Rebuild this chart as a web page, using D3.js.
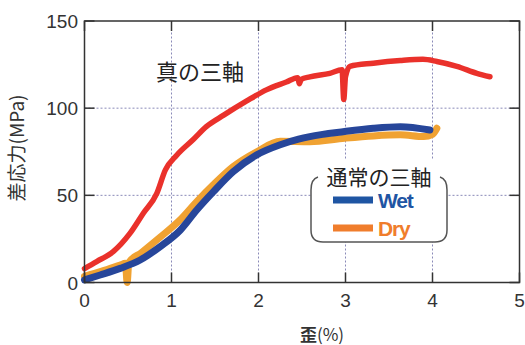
<!DOCTYPE html>
<html>
<head>
<meta charset="utf-8">
<script src="https://cdn.jsdelivr.net/npm/d3@7"></script>
<style>
  body { margin: 0; background: #fff; }
  svg text { font-family: "Liberation Sans", Arial, sans-serif; }
  .jp { font-family: "Noto Sans CJK JP", sans-serif; }
</style>
</head>
<body>
<div id="chart"></div>
<script>
// Data: strain (%) vs deviator stress (MPa)
const trueStrain = [0, 0.14, 0.33, 0.52, 0.68, 0.83, 0.93, 1.06, 1.25, 1.40, 1.60, 1.86, 2.09, 2.32, 2.45, 2.47, 2.49, 2.59, 2.82, 2.96, 2.98, 3.00, 3.05, 3.32, 3.63, 3.89, 4.05, 4.28, 4.51, 4.66];
const trueStress = [8, 12, 17.7, 28, 40, 51, 64.6, 73, 82, 89.4, 96, 104, 110.5, 115, 117.5, 114, 116.5, 118, 120, 122, 105, 118, 124, 125.8, 127.3, 128, 126.8, 124, 120, 118];

const wetStrain = [0, 0.18, 0.41, 0.64, 0.87, 1.10, 1.29, 1.48, 1.71, 1.98, 2.25, 2.46, 2.59, 2.99, 3.32, 3.63, 3.97];
const wetStress = [1.5, 4.3, 8.1, 12.9, 20.6, 30, 41.6, 52, 63.6, 73.2, 79, 82.2, 83.7, 86.6, 88.5, 89.4, 87.5];

const dryStrain = [0, 0.2, 0.41, 0.47, 0.49, 0.51, 0.65, 0.87, 1.10, 1.29, 1.48, 1.71, 1.98, 2.25, 2.59, 2.99, 3.32, 3.63, 3.90, 4.0, 4.05];
const dryStress = [3.5, 6.5, 10, 11, 0, 11.5, 17, 26, 36, 46.4, 56, 66.5, 75, 81, 80.8, 82.8, 84.1, 84.7, 83.7, 85, 88.5];

const xTicks = [0, 1, 2, 3, 4, 5];
const yTicks = [0, 50, 100, 150];

const width = 525, height = 345;
const x0 = 84.5, x1 = 519.5, y0 = 282.5, y1 = 21;

const svg = d3.select("#chart").append("svg")
    .attr("width", width)
    .attr("height", height);

const x = d3.scaleLinear().domain([0, 5]).range([x0, x1]);
const y = d3.scaleLinear().domain([0, 150]).range([y0, y1]);

// grid
svg.append("g").selectAll("line").data([1, 2, 3, 4]).enter().append("line")
    .attr("x1", d => x(d)).attr("x2", d => x(d))
    .attr("y1", y0).attr("y2", y1)
    .attr("stroke", "#8a8ab8").attr("stroke-width", 1).attr("stroke-dasharray", "2,2");
svg.append("g").selectAll("line").data([50, 100]).enter().append("line")
    .attr("x1", x0).attr("x2", x1)
    .attr("y1", d => y(d)).attr("y2", d => y(d))
    .attr("stroke", "#8a8ab8").attr("stroke-width", 1).attr("stroke-dasharray", "2,2");

// curves
const line = d3.line().x(d => x(d[0])).y(d => y(d[1])).curve(d3.curveMonotoneX);
const series = [
    { xs: dryStrain, ys: dryStress, color: "#f0a232", w: 7 },
    { xs: wetStrain, ys: wetStress, color: "#27469a", w: 7 },
    { xs: trueStrain, ys: trueStress, color: "#ea312b", w: 5.5 }
];
series.forEach(s => {
    svg.append("path")
        .datum(s.xs.map((v, i) => [v, s.ys[i]]))
        .attr("d", line)
        .attr("fill", "none")
        .attr("stroke", s.color)
        .attr("stroke-width", s.w)
        .attr("stroke-linejoin", "round")
        .attr("stroke-linecap", "round");
});

// frame and inward ticks
svg.append("rect")
    .attr("x", x0).attr("y", y1)
    .attr("width", x1 - x0).attr("height", y0 - y1)
    .attr("fill", "none").attr("stroke", "#333").attr("stroke-width", 1.5);

const tk = 10;
const ticks = svg.append("g").attr("stroke", "#333").attr("stroke-width", 1.5);
xTicks.forEach(t => {
    ticks.append("line").attr("x1", x(t)).attr("x2", x(t)).attr("y1", y0).attr("y2", y0 - tk);
    ticks.append("line").attr("x1", x(t)).attr("x2", x(t)).attr("y1", y1).attr("y2", y1 + tk);
});
yTicks.forEach(t => {
    ticks.append("line").attr("x1", x0).attr("x2", x0 + tk).attr("y1", y(t)).attr("y2", y(t));
    ticks.append("line").attr("x1", x1).attr("x2", x1 - tk).attr("y1", y(t)).attr("y2", y(t));
});

// tick labels
svg.append("g").selectAll("text").data(xTicks).enter().append("text")
    .attr("x", d => x(d)).attr("y", 307)
    .attr("text-anchor", "middle")
    .attr("font-size", 19).attr("fill", "#333")
    .text(d => d);
svg.append("g").selectAll("text").data(yTicks).enter().append("text")
    .attr("x", 78).attr("y", d => y(d) + 7)
    .attr("text-anchor", "end")
    .attr("font-size", 19).attr("fill", "#333")
    .text(d => d);

// axis titles
const xt = svg.append("text").attr("class", "jp")
    .attr("x", 322).attr("y", 341)
    .attr("text-anchor", "middle")
    .attr("font-size", 17).attr("fill", "#333");
xt.append("tspan").attr("font-weight", "bold").text("歪");
xt.append("tspan").text("(%)");
svg.append("text").attr("class", "jp")
    .attr("transform", "translate(24,148) rotate(-90)")
    .attr("text-anchor", "middle")
    .attr("font-size", 19).attr("fill", "#333")
    .text("差応力(MPa)");

// annotation
svg.append("text").attr("class", "jp")
    .attr("x", 200).attr("y", 80)
    .attr("text-anchor", "middle")
    .attr("font-size", 22).attr("fill", "#222")
    .text("真の三軸");

// legend
const lg = svg.append("g");
lg.append("rect").attr("x", 311).attr("y", 160).attr("width", 136).attr("height", 82)
    .attr("fill", "#fff");
lg.append("path")
    .attr("d", "M318,177 Q311,179 311,190 L311,230 Q311,242 323,242 L435,242 Q447,242 447,230 L447,190 Q447,179 440,177")
    .attr("fill", "none").attr("stroke", "#555").attr("stroke-width", 1.5);
lg.append("text").attr("class", "jp")
    .attr("x", 379).attr("y", 185)
    .attr("text-anchor", "middle")
    .attr("font-size", 21).attr("fill", "#222")
    .text("通常の三軸");
const legendItems = [
    { label: "Wet", color: "#1f55a3", ly: 200 },
    { label: "Dry", color: "#f07d2c", ly: 228 }
];
legendItems.forEach(d => {
    lg.append("line").attr("x1", 333).attr("x2", 373).attr("y1", d.ly).attr("y2", d.ly)
        .attr("stroke", d.color).attr("stroke-width", 7);
    lg.append("text")
        .attr("x", 378).attr("y", d.ly + 8)
        .attr("font-size", 21).attr("font-weight", "bold")
        .attr("letter-spacing", -1.2)
        .attr("fill", d.color)
        .text(d.label);
});
</script>
</body>
</html>
